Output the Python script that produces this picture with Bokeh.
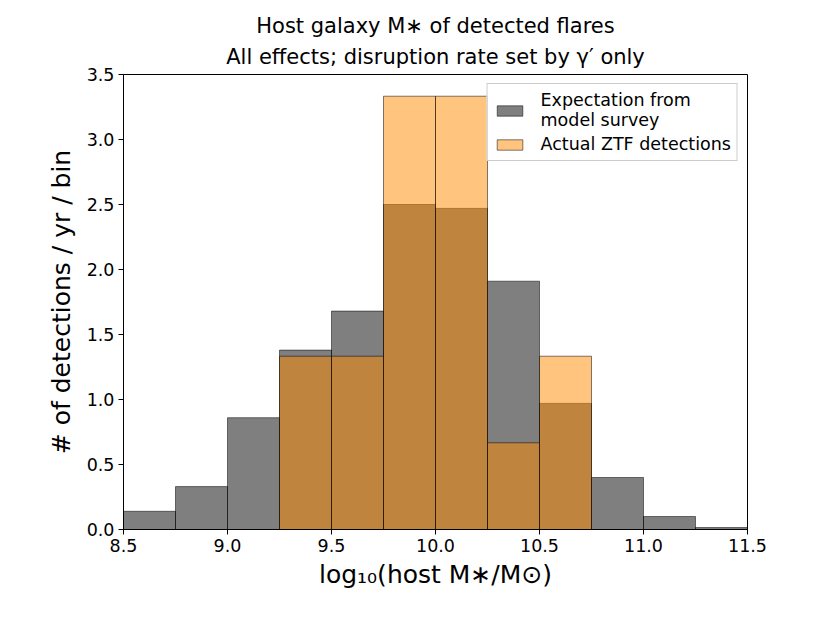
from bokeh.plotting import figure
from bokeh.models import Range1d, FixedTicker, PrintfTickFormatter, Title, Legend, LegendItem
from bokeh.embed import file_html
from bokeh.resources import INLINE

# ---- data ----
bin_edges = [8.5, 8.75, 9.0, 9.25, 9.5, 9.75, 10.0, 10.25, 10.5, 10.75, 11.0, 11.25, 11.5]
model_rate = [0.14, 0.33, 0.86, 1.38, 1.68, 2.50, 2.47, 1.91, 0.97, 0.40, 0.10, 0.015]
ztf_rate = [0.0, 0.0, 0.0, 1.333, 1.333, 3.333, 3.333, 0.667, 1.333, 0.0, 0.0, 0.0]
x_ticks = [8.5, 9.0, 9.5, 10.0, 10.5, 11.0, 11.5]
y_ticks = [0.0, 0.5, 1.0, 1.5, 2.0, 2.5, 3.0, 3.5]
title_lines = ["Host galaxy M\u2217 of detected flares",
               "All effects; disruption rate set by \u03b3\u2032 only"]
legend_labels = ["Expectation from\nmodel survey", "Actual ZTF detections"]
x_label = "log\u2081\u2080(host M\u2217/M\u2299)"
y_label = "# of detections / yr / bin"

FONT = "DejaVu Sans"

p = figure(width=814, height=607, output_backend="svg", toolbar_location=None,
           x_range=Range1d(8.5, 11.5), y_range=Range1d(0, 3.5), title=None,
           min_border_left=123, min_border_right=67, min_border_top=74, min_border_bottom=78)

left = bin_edges[:-1]
right = bin_edges[1:]
r_model = p.quad(left=left, right=right, bottom=0, top=model_rate,
                 fill_color="black", fill_alpha=0.5, line_color="black", line_alpha=0.5, line_width=1)

zl = [l for l, v in zip(left, ztf_rate) if v > 0]
zr = [r for r, v in zip(right, ztf_rate) if v > 0]
zv = [v for v in ztf_rate if v > 0]
r_ztf = p.quad(left=zl, right=zr, bottom=0, top=zv,
               fill_color="#ff8c00", fill_alpha=0.5, line_color="black", line_alpha=0.5, line_width=1)

# titles (second line added first so it sits closest to the plot)
p.add_layout(Title(text=title_lines[1], align="center", text_font=FONT, text_font_size="21px",
                   text_font_style="normal", text_color="black", standoff=11), "above")
p.add_layout(Title(text=title_lines[0], align="center", text_font=FONT, text_font_size="21px",
                   text_font_style="normal", text_color="black", standoff=0), "above")

p.grid.visible = False
p.outline_line_color = "black"
p.outline_line_width = 1

for ax in (p.xaxis[0], p.yaxis[0]):
    ax.major_tick_out = 5
    ax.major_tick_in = 0
    ax.minor_tick_out = 0
    ax.minor_tick_in = 0
    ax.axis_line_color = "black"
    ax.major_tick_line_color = "black"
    ax.major_label_text_font = FONT
    ax.major_label_text_font_size = "17.5px"
    ax.major_label_text_color = "black"
    ax.axis_label_text_font = FONT
    ax.axis_label_text_font_size = "25px"
    ax.axis_label_text_font_style = "normal"
    ax.axis_label_text_color = "black"
    ax.formatter = PrintfTickFormatter(format="%.1f")

p.xaxis[0].ticker = FixedTicker(ticks=x_ticks)
p.yaxis[0].ticker = FixedTicker(ticks=y_ticks)
p.xaxis[0].axis_label = x_label
p.yaxis[0].axis_label = y_label
p.xaxis[0].major_label_standoff = 4
p.yaxis[0].major_label_standoff = 4
p.xaxis[0].axis_label_standoff = 5
p.yaxis[0].axis_label_standoff = 8

legend = Legend(items=[LegendItem(label=legend_labels[0], renderers=[r_model]),
                       LegendItem(label=legend_labels[1], renderers=[r_ztf])],
                location="top_right", margin=9,
                label_text_font=FONT, label_text_font_size="17.5px", label_text_color="black",
                border_line_color="#cccccc", border_line_alpha=1.0, border_line_width=1,
                background_fill_color="white", background_fill_alpha=0.8,
                glyph_width=32, glyph_height=13, label_standoff=15, spacing=4,
                padding=6)
p.add_layout(legend)

open("out.html", "w").write(file_html(p, INLINE))
